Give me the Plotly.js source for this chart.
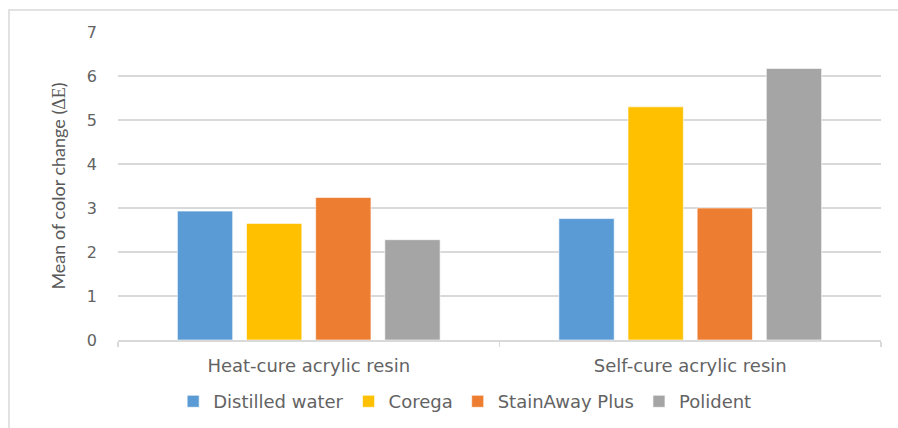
<!DOCTYPE html>
<html><head><meta charset="utf-8">
<script src="https://cdn.plot.ly/plotly-3.0.1.min.js"></script>
<style>html,body{margin:0;padding:0;background:#fff}#chart{width:898px;height:428px}</style>
</head><body><div id="chart"></div>
<script>
const categories = ["Heat-cure acrylic resin", "Self-cure acrylic resin"];
const seriesNames = ["Distilled water", "Corega", "StainAway Plus", "Polident"];
const distilledWater = [2.93, 2.76];
const corega = [2.65, 5.30];
const stainAwayPlus = [3.24, 3.00];
const polident = [2.28, 6.17];
const yTicks = [0, 1, 2, 3, 4, 5, 6, 7];
const colors = ["#5b9bd5", "#ffc000", "#ed7d31", "#a5a5a5"];

const values = [distilledWater, corega, stainAwayPlus, polident];
const font = "DejaVu Sans, Open Sans, sans-serif";
const titleFont = "Lato, Open Sans, sans-serif";
const traces = values.map((v, i) => ({
  type: "bar", x: categories, y: v, name: seriesNames[i],
  marker: {color: colors[i], line: {color: "rgba(255,255,255,0.6)", width: 1}},
  hoverinfo: "skip"
}));
const layout = {
  width: 898, height: 428,
  margin: {l: 118, r: 17, t: 32, b: 88, autoexpand: false},
  paper_bgcolor: "#fff", plot_bgcolor: "#fff",
  barmode: "group", bargap: 0.275, bargroupgap: 0.2,
  font: {family: font, color: "#636363", size: 15},
  xaxis: {
    type: "category", showgrid: false, zeroline: false, automargin: false,
    showline: true, linecolor: "#d9d9d9", linewidth: 1.5,
    ticks: "outside", tickson: "boundaries", ticklen: 5, tickcolor: "#d9d9d9", tickwidth: 1.5,
    ticklabelstandoff: 9,
    tickfont: {family: font, size: 18, color: "#636363"}
  },
  yaxis: {
    range: [0, 7], tickvals: yTicks, ticktext: yTicks.map(String), automargin: false,
    showgrid: true, gridcolor: "#d9d9d9", gridwidth: 1.5,
    zeroline: false, showline: false, ticks: "", ticklabelstandoff: 20,
    tickfont: {family: font, size: 16, color: "#636363"},
    title: {text: 'Mean of color change (<span style="font-family:Liberation Serif, DejaVu Serif, serif">ΔE</span>)', standoff: 16,
            font: {family: titleFont, size: 18, color: "#595959"}}
  },
  legend: {orientation: "h", x: 0.455, xanchor: "center", y: -0.2, yanchor: "middle",
           font: {family: font, size: 18, color: "#636363"}, itemwidth: 30, traceorder: "normal"},
  shapes: [{type: "rect", xref: "paper", yref: "paper", x0: -0.1429, x1: 1.05, y0: -0.35, y1: 1.0714,
            line: {color: "#d9d9d9", width: 1.5}, fillcolor: "rgba(0,0,0,0)", layer: "below"}]
};
Plotly.newPlot("chart", traces, layout, {staticPlot: true, displayModeBar: false});
</script></body></html>
